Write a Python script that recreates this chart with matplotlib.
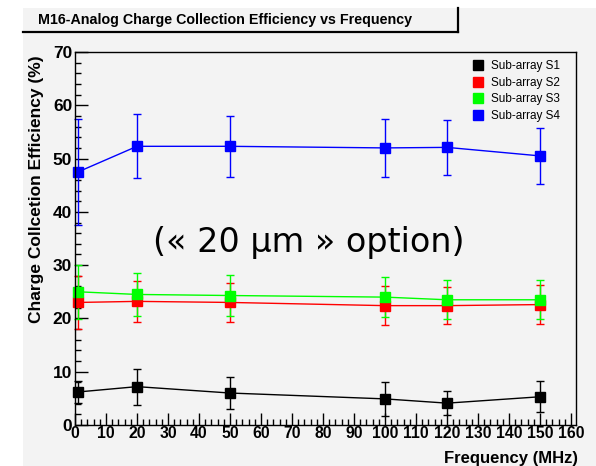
import matplotlib
matplotlib.use("Agg")
import matplotlib.pyplot as plt
from matplotlib.lines import Line2D
from matplotlib.patches import Rectangle
from matplotlib.ticker import MultipleLocator

# frequency points (MHz)
freq = [1, 20, 50, 100, 120, 150]

# charge collection efficiency (%) and errors per sub-array
s1 = [6.2, 7.2, 6.0, 4.9, 4.1, 5.3]
s1_err = [2.0, 3.4, 3.0, 3.2, 2.3, 2.9]
s2 = [23.0, 23.2, 23.0, 22.4, 22.4, 22.6]
s2_err = [5.0, 3.9, 3.7, 3.6, 3.5, 3.7]
s3 = [25.0, 24.5, 24.3, 24.0, 23.5, 23.5]
s3_err = [5.1, 4.0, 3.9, 3.8, 3.7, 3.7]
s4 = [47.5, 52.3, 52.3, 52.0, 52.1, 50.5]
s4_err = [9.9, 6.0, 5.7, 5.4, 5.2, 5.3]

labels = ["Sub-array S1", "Sub-array S2", "Sub-array S3", "Sub-array S4"]
colors = ["#000000", "#ff0000", "#00ff00", "#0000ff"]

W, H = 596, 466
fig = plt.figure(figsize=(W / 100, H / 100), dpi=100)
fig.patch.set_facecolor("white")

# ROOT-like canvas
bg = "#f3f3f3"
fig.patches.append(Rectangle((23 / W, 0), 1 - 23 / W, 1 - 8 / H,
                             transform=fig.transFigure, facecolor=bg,
                             edgecolor="none", zorder=-5))

# title box with shadow edges (bottom and right)
tb_l, tb_r, tb_t, tb_b = 23 / W, 458 / W, 1 - 8 / H, 1 - 32 / H
fig.lines.append(Line2D([tb_l, tb_r], [tb_b, tb_b], transform=fig.transFigure,
                        color="black", lw=1.6))
fig.lines.append(Line2D([tb_r, tb_r], [tb_b, tb_t], transform=fig.transFigure,
                        color="black", lw=1.6))
fig.text(38 / W, 1 - 20 / H, "M16-Analog Charge Collection Efficiency vs Frequency",
         fontsize=10.3, fontweight="bold", family="Liberation Sans",
         ha="left", va="center")

ax = fig.add_axes([75 / W, 1 - 425 / H, (576 - 75) / W, (425 - 52) / H])
ax.set_facecolor(bg)
ax.set_xlim(0, 161.6)
ax.set_ylim(0, 70)

series = [(s1, s1_err), (s2, s2_err), (s3, s3_err), (s4, s4_err)]
for (vals, errs), c in zip(series, colors):
    ax.errorbar(freq, vals, yerr=errs, color=c, lw=1, marker="s", ms=7,
                mec=c, mfc=c, capsize=3, capthick=1, elinewidth=1, clip_on=False)

ax.xaxis.set_major_locator(MultipleLocator(10))
ax.xaxis.set_minor_locator(MultipleLocator(2))
ax.yaxis.set_major_locator(MultipleLocator(10))
ax.yaxis.set_minor_locator(MultipleLocator(2))
ax.tick_params(axis="both", which="both", direction="in", top=False, right=False)
ax.tick_params(axis="both", which="major", length=9, width=1)
ax.tick_params(axis="both", which="minor", length=4.5, width=1)
ax.tick_params(axis="x", pad=1)
ax.tick_params(axis="y", pad=2)
for lab in ax.get_xticklabels():
    lab.set_fontweight("bold")
    lab.set_fontsize(11.3)
    lab.set_family("Liberation Sans")
for lab in ax.get_yticklabels():
    lab.set_fontweight("bold")
    lab.set_fontsize(12.5)
    lab.set_family("Liberation Sans")
for sp in ax.spines.values():
    sp.set_linewidth(1)

fig.text(37 / W, 1 - 55 / H, "Charge Collcetion Efficiency (%)", rotation=90,
         fontsize=12.5, fontweight="bold", family="Liberation Sans",
         ha="center", va="top")
fig.text(578 / W, 1 - 458 / H, "Frequency (MHz)", fontsize=12,
         fontweight="bold", family="Liberation Sans", ha="right", va="center")

ax.text(0.467, 0.488, "(\u00ab 20 \u00b5m \u00bb option)", transform=ax.transAxes,
        fontsize=24, family="DejaVu Sans", ha="center", va="center")

handles = [Line2D([], [], color=c, marker="s", ls="none", ms=7) for c in colors]
leg = ax.legend(handles, labels, loc="upper right", frameon=False,
                prop={"family": "Liberation Sans", "size": 8.5},
                handlelength=1, handletextpad=0.6, labelspacing=0.38,
                borderaxespad=0.3, bbox_to_anchor=(0.985, 1.0))

fig.savefig("out.png", dpi=100)
